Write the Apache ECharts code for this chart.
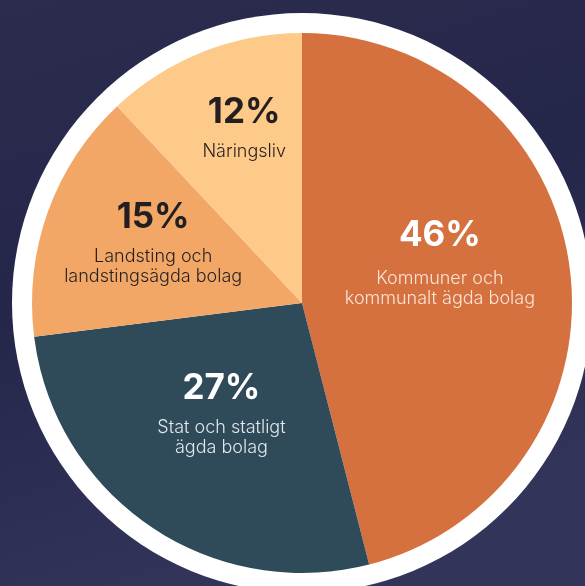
<!DOCTYPE html>
<html>
<head>
<meta charset="utf-8">
<script src="https://cdn.jsdelivr.net/npm/echarts@6/dist/echarts.min.js"></script>
<style>
html,body{margin:0;padding:0;background:#2a2b4c;}
#c{width:585px;height:586px;}
</style>
</head>
<body>
<div id="c"></div>
<script>
const categories = ['Kommuner och\nkommunalt ägda bolag', 'Stat och statligt\nägda bolag', 'Landsting och\nlandstingsägda bolag', 'Näringsliv'];
const values = [46, 27, 15, 12];
const percentLabels = ['46%', '27%', '15%', '12%'];

const colors = ['#d5703f', '#2f4b5a', '#f2a766', '#fdca8a'];
const pctColors = ['#ffffff', '#ffffff', '#231f20', '#231f20'];
const txtColors = ['#fce3d4', '#e1e7eb', '#231f20', '#231f20'];
const pctLineHeights = [66, 58, 58, 58];
const labelShift = [[1, -30], [-3, -9], [-19, -19], [-7, -52]];

const chart = echarts.init(document.getElementById('c'), null, {renderer: 'canvas'});

const pieData = categories.map((name, i) => ({
  name: name,
  value: values[i],
  itemStyle: {color: colors[i]},
  label: {
    formatter: () => '{p|' + percentLabels[i] + '}\n' + name.split('\n').map(s => '{t|' + s + '}').join('\n'),
    rich: {
      p: {fontSize: 35, fontWeight: 'bold', color: pctColors[i], lineHeight: pctLineHeights[i], fontFamily: 'Inter, sans-serif'},
      t: {fontSize: 18, fontWeight: 300, color: txtColors[i], lineHeight: 20, fontFamily: 'Inter, sans-serif'}
    }
  }
}));

chart.setOption({
  backgroundColor: {
    type: 'linear', x: 0, y: 0, x2: 0.3, y2: 1,
    colorStops: [{offset: 0, color: '#2c2c4d'}, {offset: 0.5, color: '#24264a'}, {offset: 1, color: '#33345a'}]
  },
  animation: false,
  series: [
    {
      type: 'pie',
      center: [302, 303],
      radius: [0, 290],
      silent: true,
      label: {show: false},
      labelLine: {show: false},
      itemStyle: {color: '#ffffff'},
      data: [{value: 1, name: 'ring'}]
    },
    {
      type: 'pie',
      center: [302, 303],
      radius: [0, 270],
      startAngle: 90,
      clockwise: true,
      label: {show: true, position: 'inside', align: 'center'},
      labelLine: {show: false},
      labelLayout: function (params) {
        const s = labelShift[params.dataIndex];
        return {dx: s[0], dy: s[1]};
      },
      emphasis: {disabled: true},
      data: pieData
    }
  ]
});
</script>
</body>
</html>
